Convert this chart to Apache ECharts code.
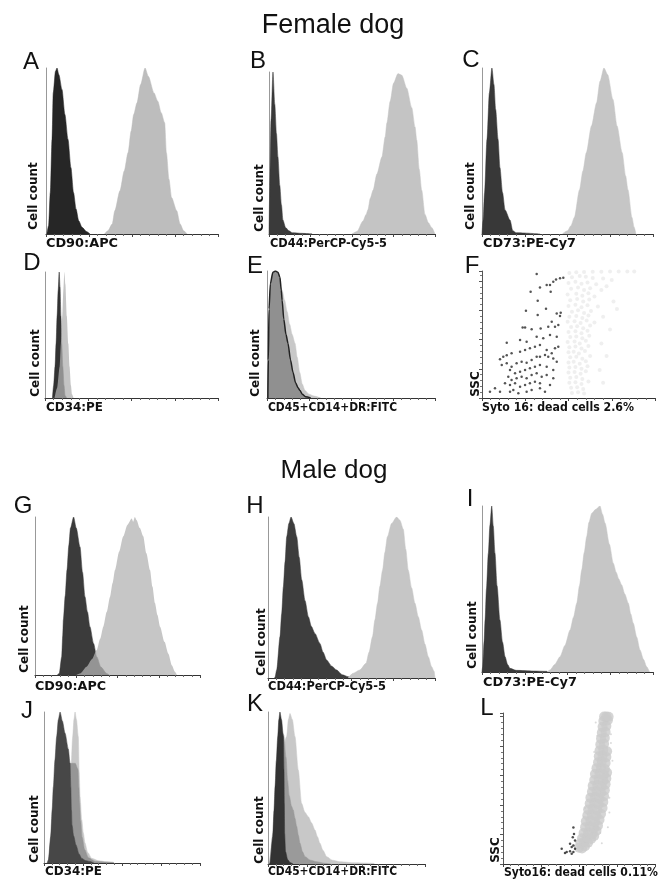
<!DOCTYPE html>
<html><head><meta charset="utf-8">
<script src="https://cdn.jsdelivr.net/npm/echarts@6/dist/echarts.min.js"></script>
<style>html,body{margin:0;padding:0;background:#fff}#c{width:667px;height:880px}</style>
</head><body><div id="c"></div>
<script>
// ---------- Titles / labels ----------
const groupTitles = ['Female dog', 'Male dog'];
const panelLetters = ['A','B','C','D','E','F','G','H','I','J','K','L'];
const xLabels = ['CD90:APC','CD44:PerCP-Cy5-5','CD73:PE-Cy7','CD34:PE','CD45+CD14+DR:FITC','Syto 16: dead cells 2.6%',
                 'CD90:APC','CD44:PerCP-Cy5-5','CD73:PE-Cy7','CD34:PE','CD45+CD14+DR:FITC','Syto16: dead cells 0.11%'];
const yLabels = ['Cell count','Cell count','Cell count','Cell count','Cell count','SSC',
                 'Cell count','Cell count','Cell count','Cell count','Cell count','SSC'];

// ---------- Histogram data: [fluorescence (% of scale), relative count (% of peak)] ----------
const A_dark = [[0.5,0],[1.5,5],[2.5,25],[3.5,57],[4.2,85],[5.5,98],[6.4,100],[7.5,96],[9.3,87],[11,72],[12.8,57],[14.5,40],[16,25],[17.5,15],[19,8],[21,4],[23.5,1.5],[25.6,0]];
const A_light = [[34,0],[36,2],[38.5,6],[40,14],[43,26],[45.5,38],[47.7,49],[49.5,62],[51,72],[52.9,79],[55,90],[57.6,100],[59.5,95],[62.8,85],[65,80],[67,73],[69,67],[70,49],[71.5,33],[73,22],[76,14],[78,6],[80,2],[82,0]];
const B_dark = [[0,0],[0.5,30],[1.2,70],[2.4,100],[3.5,80],[4.5,62],[5.4,47.5],[6.5,30],[7.5,18],[8.4,8.6],[10,4],[12,2],[14,0.8],[20,0.4],[26,0]];
const B_light = [[50,0],[53,1.5],[56.6,8],[58.5,12],[59.6,15],[61,22],[62.7,27],[65,37],[68,47.5],[70,60],[71,68.5],[73,82],[75,93],[77.7,99],[80,98],[83,90],[86,78],[88,66],[89,58],[90.5,40],[92,27],[94,12],[96,7],[98,4],[100,0]];
const C_dark = [[0,0],[0.6,8],[1.5,25],[2.9,57],[4.3,85],[5.8,100],[7,90],[8,75],[9.4,57],[10.5,40],[12,25],[13.5,14.5],[16.4,8.4],[18,2],[20,0.8],[34,0]];
const C_light = [[47,0],[50,2],[52,5],[54,10],[57,26.5],[59,38],[61,49],[64,65],[67,79],[69,92],[71.3,100],[73.5,96],[76.6,81],[79,65],[82,49],[84,35],[85.4,26.5],[87.7,10],[89,4],[90,0]];
const D_dark = [[4.3,0],[5,10],[5.8,25],[6.4,43],[7,65],[7.6,85],[8.2,100],[8.7,88],[9.2,65],[9.7,43],[10.3,25],[11,10],[11.6,2],[12.5,0]];
const D_light = [[5.5,0],[7,8],[8.5,25],[9.2,43],[10,65],[10.6,85],[11.2,100],[11.8,90],[12.6,65],[13.5,43],[14.2,25],[15,10],[15.6,3],[16.5,0]];
const E_light = [[0.6,0],[1,30],[1.8,60],[3,78],[4.5,86],[6,90],[7.5,89],[9,85],[10.5,77],[12,68],[13.5,58],[15,50],[16.7,43],[18,32],[19.5,20],[21,11],[22.6,6],[25,3],[28,1.5],[32,0]];
const E_dark = [[0.5,0],[0.8,30],[1.2,70],[2,90],[3.5,99],[5,100],[6.5,99],[7.7,95],[8.5,85],[9,77],[10,62],[11.3,50],[12.5,43],[14,30],[15.5,20],[17,12],[18.5,8],[19.6,6],[21,3],[23,1],[26,0]];
const G_dark = [[13.5,0],[14.7,1],[16.2,11.6],[16.8,25],[17.2,35],[18.3,50],[19.4,66.5],[20.5,82],[21.5,93],[23.4,100],[25,93],[27.3,81],[28.8,65],[30.3,49.6],[31.8,40],[33.3,30.6],[35.5,20],[37.4,11.6],[40,5],[43.4,1],[45,0]];
const G_light = [[25,0],[27.3,1],[31.3,5.3],[34.5,10],[37.4,15.8],[39.5,23],[41.4,30.6],[43.5,40],[45.5,49.6],[47,58],[48.5,66.5],[51,78],[53.5,87.8],[56,95],[58.6,99],[59.5,97],[60.5,100],[61.6,98],[63.5,93],[65.6,87.8],[67.5,77],[69.7,66.5],[71.2,56],[72.7,45.6],[74.2,38],[75.8,30.6],[78.5,21],[80.8,13.5],[83,6],[84.8,2],[86,0]];
const H_dark = [[3.8,0],[4.2,0.5],[5.2,5],[7.2,25.7],[8.2,40],[9.2,56.7],[10.2,72],[11.2,87.8],[12.5,96],[13.8,100],[15.5,96],[17.2,87.8],[18.7,75],[20.2,61],[22.2,48],[24.2,38],[26,32],[28.1,27.7],[31.1,21.5],[33,16],[35.1,11.2],[38,7.5],[41.1,5],[44.5,2],[48.1,0.8],[50,0]];
const H_light = [[48,0],[50.9,2.9],[55,5],[58.7,9.1],[60.5,16],[62.6,25.7],[64,36],[65.6,46.4],[67,57],[68.6,67],[70,78],[71.5,87.8],[74,96],[77,100],[79,98],[81,92.5],[82.5,80],[84,67],[86,56],[88,46.4],[90,38],[92,29.8],[94,21],[96,13.2],[98,7],[99.5,4],[100,0]];
const I_dark = [[0,0],[0.4,3.2],[1.2,18],[1.8,31.3],[2.6,50],[3.7,71.5],[4.6,88],[5.7,100],[6.6,88],[7.6,71.5],[8.8,52],[10.5,31.3],[12,18],[13.5,9.2],[15,4.5],[16.4,2.2],[20,1],[30,0.6],[37.8,0.4],[38.5,0]];
const I_light = [[38,0],[39.8,1.2],[42.5,4.5],[45.6,9.2],[48.5,16],[51.5,25.3],[53.5,33],[55.4,41.4],[57,52],[58.3,61.4],[59.8,72],[61.2,81.5],[62.5,90],[64.2,95.6],[66.5,98],[69,100],[70.5,95],[72,89.6],[74.5,77],[76.8,65.5],[78.5,60],[80,56],[81.7,52.4],[83.5,47],[85.6,41.4],[87,35],[88.5,29.3],[90.5,21],[92.4,13.3],[94.5,7.5],[96.3,3.2],[98,0]];
const J_light = [[15,0],[16,30],[17,55],[18.4,83.6],[19.2,95],[19.9,100],[20.8,95],[22,83.6],[22.6,60],[23.1,44],[24.2,28.7],[25.2,20],[26.3,13.2],[28,7],[30.6,3.1],[35,1.5],[40,0.8],[44.4,0.5],[45,0]];
const J_mid = [[3,0],[8,50],[12,64],[16.7,66],[20,66],[21.8,62],[22.4,50],[22.8,40],[23.5,28],[24.5,17],[26,9],[28.5,3.5],[33,1],[44,0.4],[45,0]];
const J_dark = [[2,0],[2.8,2],[4.3,17.4],[5.2,35],[6,50.5],[7,68],[8.1,83.6],[9.2,95],[10.3,100],[11.8,94],[13.5,86],[15.6,75.5],[16.7,66],[17.2,50],[17.6,35],[18,25],[19,18],[20.5,12],[22.5,6],[24.2,3],[27,1.5],[29.5,1],[32,0]];
const K_light = [[1,0],[3,20],[6,50],[9,75],[11.9,83.8],[13,95],[14,99],[15.5,95],[17.2,83.8],[19.3,61.8],[21.4,39.9],[23.5,34],[25.7,31.1],[27.8,27],[29.9,22.4],[31.5,18],[33.1,13.6],[35,9],[37.4,4.8],[41,2.5],[45.9,1.5],[55,0.8],[67,0.5],[68,0]];
const K_mid = [[1,0],[3,15],[5,45],[7,75],[8.5,88],[10,85],[11.5,70],[12.5,55],[13.5,45],[15,38],[16.1,35.5],[17.2,30],[18.3,24.6],[19.3,19],[20.4,13.6],[22,8],[23.6,4.8],[27,2.5],[31,1.5],[36,0.5],[40,0]];
const K_dark = [[0.8,0],[1.3,0.5],[3,17.9],[3.8,35],[4.5,50.8],[5.3,68],[6.2,83.8],[6.9,95],[7.6,100],[8.6,95],[9.8,83.8],[10.2,62],[10.4,40],[10.6,20],[11.2,8],[12.5,3],[14,1],[16,0]];

// ---------- Scatter data: [Syto16 intensity, SSC] ----------
const F_dead = [[316,976],[428,934],[412,915],[451,942],[470,947],[374,889],[393,889],[335,871],[281,837],[397,837],[322,766],[254,687],[370,703],[322,653],[432,666],[455,671],[451,645],[403,601],[235,556],[249,556],[287,541],[339,548],[383,561],[422,561],[441,575],[143,435],[220,456],[258,443],[316,483],[354,470],[393,496],[432,483],[123,325],[104,305],[143,336],[171,352],[220,364],[249,378],[277,391],[306,404],[335,417],[374,378],[403,352],[422,391],[441,404],[114,260],[143,273],[171,246],[200,273],[229,286],[258,278],[287,299],[316,325],[335,325],[364,338],[383,325],[412,312],[432,286],[162,220],[191,194],[220,207],[249,220],[277,234],[306,246],[335,260],[374,246],[412,220],[152,168],[171,142],[200,155],[229,168],[258,155],[287,181],[316,194],[345,168],[374,181],[133,116],[162,102],[191,116],[220,89],[249,102],[277,116],[306,128],[335,116],[412,155],[46,50],[75,76],[104,50],[162,50],[181,63],[210,37],[258,50],[287,63],[335,76],[364,50],[393,102]];
const F_live = [[505,985],[545,990],[590,992],[640,994],[690,995],[740,996],[790,996],[840,996],[880,996],[520,950],[565,960],[600,955],[640,945],[700,940],[500,905],[540,915],[575,900],[610,910],[660,895],[515,860],[555,870],[590,850],[625,865],[690,850],[495,815],[545,820],[580,805],[615,825],[650,800],[510,770],[550,780],[585,760],[620,775],[500,725],[540,735],[575,715],[610,730],[670,720],[520,680],[555,690],[590,670],[630,685],[505,640],[545,645],[580,630],[615,650],[495,600],[535,605],[570,590],[605,610],[650,595],[515,560],[550,565],[585,550],[625,570],[500,520],[540,525],[575,510],[610,530],[510,480],[545,485],[580,470],[620,490],[495,440],[535,445],[565,430],[600,450],[505,400],[540,405],[575,390],[615,410],[500,360],[530,365],[560,350],[595,370],[510,320],[545,325],[580,310],[625,330],[500,280],[530,285],[565,270],[600,290],[505,240],[540,245],[575,230],[610,250],[500,200],[535,205],[570,190],[600,210],[510,160],[545,165],[580,150],[505,120],[540,125],[575,110],[615,130],[515,80],[550,85],[585,70],[520,40],[555,45],[590,35],
  [720,880],[760,760],[700,640],[740,540],[690,430],[720,330],[680,220],[700,120],[750,930],[780,700]];
const L_dead = [[386,103],[408,75],[419,81],[441,86],[452,115],[463,126],[474,103],[452,70],[463,81],[441,137],[463,247],[467,203],[474,159],[459,181]];
const L_live = [[500,110],[520,105],[540,120],[510,140],[535,150],[560,145],[520,175],[550,180],[580,170],[600,190],[530,210],[560,215],[590,205],[615,225],[540,250],[570,255],[600,245],[625,260],[545,290],[575,295],[605,285],[635,300],[555,330],[585,335],[615,325],[645,340],[560,370],[590,375],[620,365],[655,380],[570,410],[600,415],[630,405],[660,420],[575,450],[605,455],[635,445],[665,460],[585,490],[615,495],[645,485],[670,500],[590,530],[620,535],[650,525],[675,540],[600,570],[630,575],[660,565],[680,580],[605,610],[635,615],[665,605],[685,620],[615,650],[645,655],[670,645],[625,690],[650,695],[675,685],[630,730],[655,735],[680,725],[635,770],[660,775],[685,765],[640,810],[665,815],[645,850],[670,855],[650,890],[675,895],[655,930],[680,935],[660,970],[690,975],[665,1000],[680,1000],[695,998]];
const L_sparse = [[560,120],[640,210],[700,450],[705,600],[720,700],[620,870],[710,880],[600,760],[530,320],[700,350],[540,380],[690,250],[710,820],[610,960],[480,150],[650,140]];

// ---------- Layout / style (not data) ----------
const panels = [
  {box:[46,68,172,166], letter:[31,62], xl:[46,244,72], yl:[34,196], s:[{d:A_dark,c:'#262626'},{d:A_light,c:'#bdbdbd'}]},
  {box:[269,72,166,162], letter:[258,61], xl:[270,244,117], yl:[260,198], s:[{d:B_dark,c:'#3a3a3a'},{d:B_light,c:'#c4c4c4'}]},
  {box:[482,68,171,166], letter:[471,60], xl:[483,244,93], yl:[471,196], s:[{d:C_dark,c:'#383838'},{d:C_light,c:'#c6c6c6'}]},
  {box:[45,272,173,126], letter:[32,263], xl:[46,408,57], yl:[36,363], s:[{d:D_dark,c:'#333333'},{d:D_light,c:'#b0b0b0',o:0.75}]},
  {box:[267,271,168,127], letter:[255,266], xl:[268,408,129], yl:[256,363], s:[{d:E_light,c:'#c8c8c8'},{d:E_dark,c:'#909090',lc:'#222',lw:1.5}]},
  {box:[482,271,173,127], letter:[472,266], xl:[482,408,152], yl:[476,384], scatter:true, ymax:1000, yint:230,
     s:[{d:F_live,c:'rgba(165,165,165,0.22)',size:4},{d:F_dead,c:'#2a2a2a',size:2.5}]},
  {box:[35,517,165,158], letter:[23,506], xl:[35,687,71], yl:[25,639], s:[{d:G_dark,c:'#3b3b3b'},{d:G_light,c:'#b3b3b3',o:0.75}]},
  {box:[268,517,167,161], letter:[255,506], xl:[268,687,118], yl:[262,642], s:[{d:H_dark,c:'#3d3d3d'},{d:H_light,c:'#c6c6c6'}]},
  {box:[482,506,171,166], letter:[470,499], xl:[483,683,94], yl:[473,635], s:[{d:I_dark,c:'#3a3a3a'},{d:I_light,c:'#c6c6c6'}]},
  {box:[44,712,156,151], letter:[27,711], xl:[45,872,57], yl:[35,829], s:[{d:J_light,c:'#c8c8c8'},{d:J_mid,c:'#969696'},{d:J_dark,c:'#474747'}]},
  {box:[268,712,157,152], letter:[255,704], xl:[268,872,129], yl:[260,830], s:[{d:K_light,c:'#c8c8c8'},{d:K_mid,c:'#9a9a9a'},{d:K_dark,c:'#333333'}]},
  {box:[503,713,152,151], letter:[487,708], xl:[504,873,154], yl:[496,850], scatter:true, ymax:1024, yint:200,
     s:[{d:L_sparse,c:'rgba(180,180,180,0.6)',size:2},{d:L_live,c:'#cbcbcb',size:10},{d:L_dead,c:'#222',size:2.5}]}
];

const labelFont = 'bold 12px "DejaVu Sans", sans-serif';
const mctx = document.createElement('canvas').getContext('2d');
mctx.font = labelFont;
function fitScale(text, target){ const w = mctx.measureText(text).width; return w>0 ? target/w : 1; }

const grids=[], xAxes=[], yAxes=[], series=[], graphics=[];
panels.forEach((p,i)=>{
  grids.push({left:p.box[0], top:p.box[1], width:p.box[2], height:p.box[3]});
  xAxes.push({gridIndex:i, type:'value', min:0, max:p.scatter?1000:100, interval:p.scatter?250:25,
    axisLine:{show:true,onZero:false,lineStyle:{color:'#333',width:1}},
    axisTick:{show:true,length:3,lineStyle:{color:'#444'}},
    minorTick:{show:true,splitNumber:5,length:2,lineStyle:{color:'#666'}},
    axisLabel:{show:false}, splitLine:{show:false}, minorSplitLine:{show:false}});
  yAxes.push({gridIndex:i, type:'value', min:0, max:p.scatter?p.ymax:100, interval:p.scatter?p.yint:100,
    axisLine:{show:true,onZero:false,lineStyle:{color:p.scatter?'#555':'#999',width:1}},
    axisTick:{show:!!p.scatter,length:3,lineStyle:{color:'#555'}},
    minorTick:{show:!!p.scatter,splitNumber:5,length:2,lineStyle:{color:'#777'}},
    axisLabel:{show:false}, splitLine:{show:false}});
  p.s.forEach((s,k)=>{
    if (p.scatter) {
      series.push({type:'scatter', xAxisIndex:i, yAxisIndex:i, data:s.d, symbol:'circle', symbolSize:s.size,
        itemStyle:{color:s.c}, silent:true, z:2+k});
    } else {
      series.push({type:'line', xAxisIndex:i, yAxisIndex:i, data:s.d, showSymbol:false, smooth:0.25, smoothMonotone:'x',
        lineStyle:{color:s.lc||s.c, width:s.lw||0.5, opacity:(s.o&&!s.lc)?0:1},
        areaStyle:{color:s.c, opacity:s.o||1, origin:'start'}, silent:true, z:2+k});
    }
  });
  graphics.push({type:'text', x:p.letter[0], y:p.letter[1], style:{text:panelLetters[i], font:'24px "Liberation Sans", Arial, sans-serif', fill:'#111', align:'center', verticalAlign:'middle', textAlign:'center', textVerticalAlign:'middle'}});
  graphics.push({type:'text', x:p.xl[0], y:p.xl[1], scaleX:fitScale(xLabels[i], p.xl[2]), style:{text:xLabels[i], font:labelFont, fill:'#111', align:'left', verticalAlign:'middle', textAlign:'left', textVerticalAlign:'middle'}});
  graphics.push({type:'text', x:p.yl[0], y:p.yl[1], rotation:Math.PI/2, style:{text:yLabels[i], font:labelFont, fill:'#111', align:'center', verticalAlign:'middle', textAlign:'center', textVerticalAlign:'middle'}});
});
graphics.push({type:'text', x:333, y:26, style:{text:groupTitles[0], font:'27px "Liberation Sans", Arial, sans-serif', fill:'#111', align:'center', verticalAlign:'middle', textAlign:'center', textVerticalAlign:'middle'}});
graphics.push({type:'text', x:334, y:471, style:{text:groupTitles[1], font:'26px "Liberation Sans", Arial, sans-serif', fill:'#111', align:'center', verticalAlign:'middle', textAlign:'center', textVerticalAlign:'middle'}});

const chart = echarts.init(document.getElementById('c'));
chart.setOption({animation:false, backgroundColor:'#fff', grid:grids, xAxis:xAxes, yAxis:yAxes, series:series, graphic:graphics});
</script>
</body></html>
